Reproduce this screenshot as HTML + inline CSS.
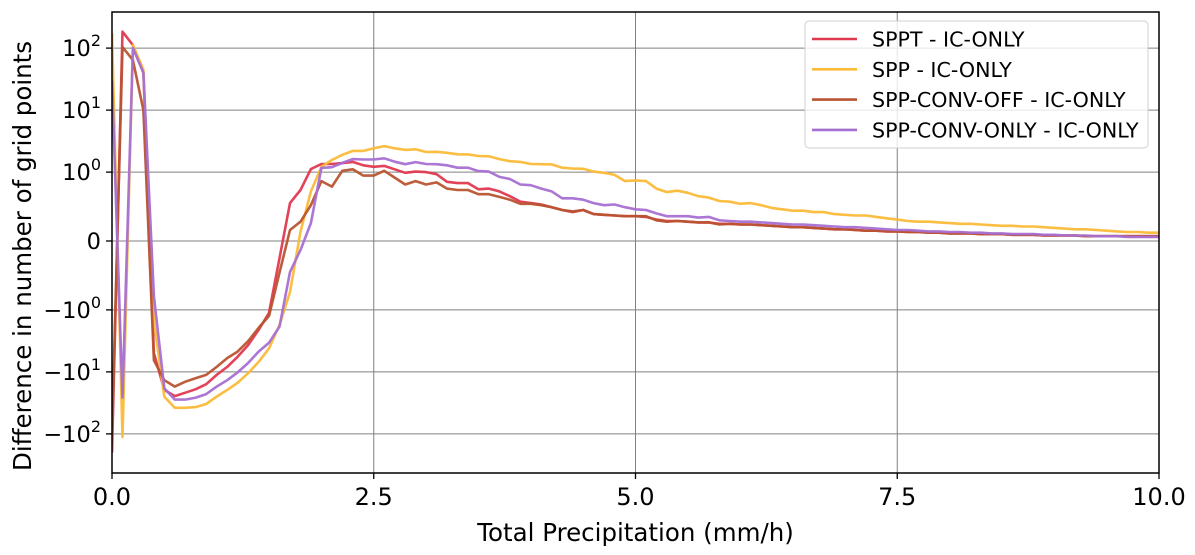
<!DOCTYPE html>
<html><head><meta charset="utf-8"><style>
html,body{margin:0;padding:0;background:#fff;}
svg{display:block;font-family:"DejaVu Sans","Liberation Sans",sans-serif;}
</style></head><body>
<svg id="chart" width="1195" height="555" xmlns="http://www.w3.org/2000/svg"></svg>
<script>
const xValues = [];
for (let i = 0; i <= 100; i++) xValues.push(+(i * 0.1).toFixed(1));
const sppt = [-200,184,112,40,-5,-19.5,-24.6,-21.7,-19,-15.8,-11.2,-8.3,-5.7,-3.7,-2.1,-1.12,-0.25,0.55,0.74,1.12,1.35,1.35,1.4,1.46,1.29,1.22,1.26,1.11,0.99,1.02,1.0,0.97,0.86,0.84,0.84,0.75,0.76,0.72,0.65,0.57,0.55,0.53,0.49,0.45,0.42,0.45,0.39,0.38,0.37,0.36,0.36,0.35,0.31,0.29,0.29,0.28,0.27,0.27,0.25,0.25,0.24,0.24,0.23,0.22,0.21,0.2,0.2,0.19,0.18,0.17,0.17,0.16,0.15,0.15,0.14,0.14,0.13,0.13,0.12,0.12,0.11,0.11,0.11,0.1,0.1,0.1,0.09,0.09,0.09,0.08,0.08,0.08,0.08,0.07,0.07,0.07,0.07,0.07,0.07,0.07,0.07];
const spp = [175,-112,112,45,-1.5,-25,-38,-38,-37,-33,-25,-19.5,-15,-10.5,-6.9,-4.2,-1.75,-0.74,0.135,0.72,1.22,1.57,1.9,2.2,2.2,2.42,2.63,2.42,2.28,2.33,2.11,2.13,2.05,1.94,1.93,1.82,1.8,1.62,1.5,1.46,1.35,1.34,1.33,1.18,1.14,1.13,1.02,0.99,0.96,0.87,0.88,0.87,0.76,0.71,0.73,0.7,0.65,0.63,0.58,0.57,0.54,0.55,0.52,0.48,0.46,0.44,0.44,0.42,0.42,0.39,0.38,0.37,0.37,0.35,0.33,0.31,0.29,0.28,0.28,0.27,0.26,0.25,0.25,0.24,0.23,0.22,0.22,0.21,0.21,0.2,0.19,0.18,0.17,0.17,0.16,0.15,0.14,0.13,0.13,0.12,0.12];
const convOff = [-100,104,64,10,-6.5,-13.6,-17.3,-14.4,-12.6,-11.2,-8.3,-6.0,-4.7,-3.2,-1.95,-1.25,-0.46,0.16,0.28,0.52,0.87,0.79,1.05,1.11,0.95,0.95,1.05,0.92,0.82,0.87,0.82,0.85,0.76,0.74,0.74,0.68,0.68,0.64,0.6,0.54,0.54,0.52,0.49,0.45,0.43,0.45,0.39,0.38,0.37,0.36,0.36,0.36,0.3,0.28,0.29,0.28,0.27,0.27,0.24,0.25,0.24,0.24,0.23,0.22,0.21,0.2,0.2,0.19,0.18,0.17,0.17,0.16,0.15,0.15,0.14,0.14,0.13,0.13,0.12,0.12,0.11,0.11,0.11,0.1,0.1,0.1,0.09,0.09,0.09,0.08,0.08,0.08,0.08,0.07,0.07,0.07,0.07,0.07,0.07,0.07,0.07];
const convOnly = [30,-26,100,40,-0.8,-18.3,-28,-28,-26,-22.8,-17.3,-13.6,-10.2,-7.2,-4.7,-3.4,-1.86,-0.45,-0.13,0.26,1.17,1.2,1.41,1.62,1.6,1.6,1.67,1.47,1.34,1.45,1.35,1.34,1.29,1.18,1.18,1.04,1.02,0.93,0.9,0.82,0.81,0.76,0.72,0.62,0.62,0.6,0.55,0.52,0.53,0.49,0.46,0.45,0.4,0.36,0.36,0.36,0.34,0.35,0.3,0.29,0.28,0.28,0.27,0.26,0.25,0.24,0.24,0.23,0.22,0.21,0.2,0.2,0.19,0.18,0.17,0.16,0.16,0.15,0.14,0.14,0.13,0.13,0.12,0.12,0.11,0.11,0.1,0.1,0.1,0.09,0.09,0.08,0.08,0.08,0.07,0.07,0.07,0.06,0.06,0.06,0.06];
const seriesNames = ["SPPT - IC-ONLY","SPP - IC-ONLY","SPP-CONV-OFF - IC-ONLY","SPP-CONV-ONLY - IC-ONLY"];
const seriesColors = ["#e0394f","#fbbb38","#b85431","#a66fd2"];
const xTicks = [0, 2.5, 5, 7.5, 10];
const xTickLabels = ["0.0","2.5","5.0","7.5","10.0"];
const yTicks = [100, 10, 1, 0, -1, -10, -100];
const yTickBase = ["10","10","10","0","\u221210","\u221210","\u221210"];
const yTickExp = ["2","1","0","","0","1","2"];

const L=112,R=1159,T=12,B=473, Y0=241, PPU=62;
const NS="http://www.w3.org/2000/svg";
const svg=document.getElementById('chart');
function xs(v){return L+(v/10)*(R-L);}
function sym(v){const la=1/(1-0.1);const a=Math.abs(v);return a<=1? v*la : Math.sign(v)*(la+Math.log10(a));}
function ys(v){return Y0-sym(v)*PPU;}
function el(tag,attrs,parent){const e=document.createElementNS(NS,tag);for(const k in attrs)e.setAttribute(k,attrs[k]);(parent||svg).appendChild(e);return e;}

const defs=el('defs',{});
const cp=el('clipPath',{id:'clip'},defs);
el('rect',{x:L,y:T,width:R-L,height:B-T},cp);

const grid=el('g',{});


xTicks.forEach(t=>{el('line',{x1:xs(t),x2:xs(t),y1:T,y2:B,stroke:'#808080','stroke-width':1},grid);});
yTicks.forEach(t=>{el('line',{x1:L,x2:R,y1:ys(t),y2:ys(t),stroke:'#808080','stroke-width':1},grid);});

const lines=el('g',{'clip-path':'url(#clip)'});
[sppt,spp,convOff,convOnly].forEach((data,si)=>{
  const pts=data.map((v,i)=>xs(xValues[i]).toFixed(1)+','+ys(v).toFixed(1)).join(' ');
  const p=el('polyline',{points:pts,fill:'none',stroke:seriesColors[si],'stroke-width':2.6,'stroke-linejoin':'round','stroke-opacity':0.95},lines);
  
  
});

const frame=el('rect',{x:L,y:T,width:R-L,height:B-T,fill:'none',stroke:'#000','stroke-width':1.5});



xTicks.forEach((t,i)=>{
  el('line',{x1:xs(t),x2:xs(t),y1:B,y2:B+6,stroke:'#000','stroke-width':1.3});
  const tx=el('text',{x:xs(t),y:B+32,'font-size':24,'text-anchor':'middle',fill:'#000'});
  tx.textContent=xTickLabels[i];
  
  
});
yTicks.forEach((t,i)=>{
  const y=ys(t);
  el('line',{x1:L-6,x2:L,y1:y,y2:y,stroke:'#000','stroke-width':1.3});
  const tx=el('text',{x:L-11,y:y+8,'font-size':22.5,'text-anchor':'end',fill:'#000'});
  
  
  const b=el('tspan',{},tx); b.textContent=yTickBase[i];
  if(yTickExp[i]){const e=el('tspan',{'font-size':16,dy:-10},tx); e.textContent=yTickExp[i];}
});

const xt=el('text',{x:(L+R)/2,y:541,'font-size':24.5,'text-anchor':'middle',fill:'#000'});
xt.textContent='Total Precipitation (mm/h)';


const yt=el('text',{x:0,y:0,'font-size':24.5,'text-anchor':'middle',fill:'#000',transform:'translate(31,256) rotate(-90)'});
yt.textContent='Difference in number of grid points';



const lg=el('g',{});


el('rect',{x:805,y:21,width:343,height:127,rx:4,fill:'#fff','fill-opacity':0.8,stroke:'#d0d0d0','stroke-width':1},lg);
seriesNames.forEach((n,i)=>{
  const y=39+i*30.3;
  const g=el('g',{},lg);
  
  
  el('line',{x1:812,x2:857,y1:y,y2:y,stroke:seriesColors[i],'stroke-width':2.6},g);
  const t=el('text',{x:872,y:y+7.5,'font-size':20.6,fill:'#000'},g);
  t.textContent=n;
});
</script>
</body></html>
